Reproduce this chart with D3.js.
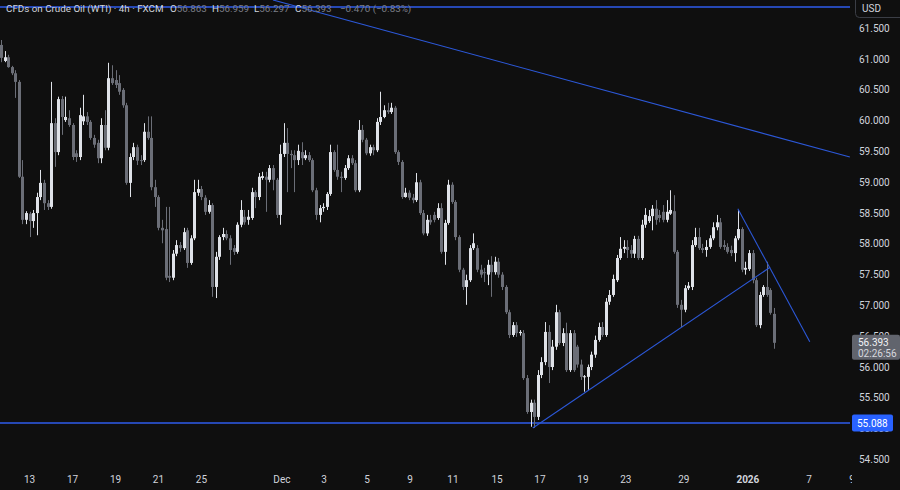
<!DOCTYPE html>
<html><head><meta charset="utf-8">
<script src="https://cdn.jsdelivr.net/npm/d3@7/dist/d3.min.js"></script>
<style>html,body{margin:0;padding:0;background:#0f0f0f;overflow:hidden}</style>
</head><body>
<svg id="chart" width="900" height="490"></svg>
<script>
// ---- data (4h candles, CFDs on Crude Oil WTI, FXCM) ----
const opens=[61.23,60.97,61.03,60.87,60.77,60.63,59.09,58.39,58.49,58.37,
58.50,58.76,58.99,58.66,58.60,59.96,59.49,60.35,60.01,60.04,
59.93,59.47,59.41,59.99,60.07,59.98,59.72,59.64,59.39,59.93,
59.56,60.69,60.66,60.61,60.50,60.25,58.99,59.41,59.57,59.36,
59.36,59.82,59.72,58.92,58.76,58.26,58.24,57.48,57.45,57.84,
57.98,57.93,58.22,57.69,58.09,58.83,58.89,58.75,58.52,58.63,
57.30,57.79,58.11,58.16,58.09,57.93,57.87,58.31,58.44,58.39,
58.42,58.84,58.76,59.07,59.09,59.04,59.23,59.04,58.47,59.46,
59.64,59.46,59.44,59.36,59.49,59.39,59.44,59.36,58.87,58.47,
58.58,58.60,58.81,59.49,59.20,59.09,59.07,59.23,59.39,59.31,
58.87,59.85,59.69,59.47,59.57,59.52,59.98,60.06,60.17,60.14,
60.21,59.49,59.33,58.76,58.83,58.75,58.71,59.00,58.50,58.17,
58.39,58.47,58.42,58.58,57.87,58.34,58.96,58.68,58.11,57.58,
57.30,57.41,57.93,57.93,57.58,57.54,57.50,57.66,57.54,57.71,
57.50,57.30,56.89,56.52,56.68,56.55,56.55,55.82,55.27,55.42,
55.19,55.87,56.08,56.57,56.00,56.33,56.89,56.39,56.55,55.95,
56.55,56.33,56.04,55.84,55.84,56.00,56.20,56.44,56.65,56.52,
57.06,57.17,57.41,57.77,57.92,57.95,57.90,57.84,58.08,57.77,
58.31,58.37,58.45,58.57,58.47,58.52,58.39,58.49,58.53,57.87,
57.01,56.93,57.28,57.30,57.98,58.11,57.93,57.90,57.95,58.09,
58.27,58.35,57.98,57.95,57.90,57.85,58.09,58.24,57.58,57.59,
57.85,57.41,56.68,57.17,57.30,57.25,56.863];
const highs=[61.31,61.13,61.07,60.89,60.82,60.66,59.36,58.53,58.52,58.55,
58.83,59.20,59.04,58.71,60.63,60.04,60.39,60.40,60.39,60.17,
59.96,59.52,60.21,60.42,60.14,60.01,59.77,59.69,60.04,60.17,
60.94,60.90,60.82,60.74,60.53,60.29,59.47,59.64,59.61,59.44,
59.96,60.07,60.07,59.04,58.79,58.39,58.60,58.60,57.90,58.06,
58.03,58.26,58.26,58.14,59.04,59.04,58.94,58.79,58.71,58.66,
57.87,58.14,58.26,58.22,58.14,57.98,58.35,58.71,58.55,58.55,
58.91,58.87,59.15,59.17,59.17,59.28,59.28,59.07,59.61,59.96,
59.88,59.52,59.52,59.61,59.65,59.52,59.49,59.39,58.91,58.63,
58.66,58.84,59.61,59.52,59.61,59.17,59.28,59.44,59.44,59.36,
60.01,59.93,59.72,59.61,59.61,60.04,60.47,60.25,60.29,60.29,
60.24,59.52,59.36,58.91,58.87,58.81,59.15,59.04,58.55,58.47,
58.47,58.52,58.66,58.66,58.39,59.04,59.00,58.71,58.14,57.61,
57.50,57.98,58.17,57.98,57.66,57.61,57.74,57.80,57.79,57.77,
57.54,57.33,56.93,56.73,56.73,56.60,56.60,55.87,55.47,55.47,
55.95,56.16,56.73,56.68,56.44,57.01,56.93,56.63,56.72,56.60,
56.60,56.36,56.12,55.87,56.04,56.25,56.51,56.72,56.73,57.12,
57.25,57.50,57.82,58.11,58.06,58.06,57.98,58.13,58.13,58.39,
58.58,58.55,58.63,58.71,58.55,58.63,58.71,58.87,58.79,57.90,
57.09,57.33,57.38,58.06,58.26,58.26,58.00,58.06,58.14,58.35,
58.47,58.42,58.06,58.01,57.97,58.13,58.55,58.27,57.71,57.90,
57.90,57.45,57.22,57.33,57.71,57.28,56.959];
const lows=[60.95,60.95,60.86,60.74,60.37,59.07,58.32,58.32,58.11,58.26,
58.14,58.71,58.55,58.55,58.57,59.25,59.44,59.77,59.98,59.90,
59.36,59.33,59.36,59.93,59.93,59.69,59.56,59.31,59.31,59.52,
59.52,60.58,60.53,60.42,60.21,58.96,58.76,59.36,59.28,59.28,
59.33,59.69,58.87,58.60,58.22,58.01,57.41,57.38,57.41,57.80,
57.87,57.90,57.61,57.66,58.06,58.78,58.71,58.47,58.49,57.14,
57.12,57.74,58.06,58.06,57.66,57.82,57.84,58.27,58.31,58.31,
58.39,58.58,58.71,59.04,58.52,59.00,58.87,58.42,58.31,59.41,
58.84,59.23,58.84,59.28,59.28,59.36,59.33,58.84,58.39,58.35,
58.52,58.55,58.78,59.17,59.04,58.84,59.04,59.20,59.28,58.84,
58.84,59.65,59.44,59.43,59.44,59.49,59.93,60.04,60.11,60.11,
59.46,59.28,58.73,58.75,58.71,58.66,58.68,58.47,58.14,58.13,
58.31,58.35,58.39,57.84,57.66,58.31,58.65,58.06,57.54,57.25,
57.01,57.38,57.90,57.54,57.45,57.38,57.33,57.14,57.50,57.45,
57.25,56.86,56.47,56.49,56.49,56.51,55.79,55.24,55.03,55.01,
55.14,55.82,56.03,55.74,55.95,56.28,56.36,56.34,55.92,55.92,
55.92,55.99,55.79,55.60,55.63,55.95,56.15,56.41,56.49,56.49,
57.01,57.14,57.38,57.74,57.85,57.77,57.77,57.77,57.74,57.74,
58.26,58.34,58.22,58.31,58.35,58.35,58.35,58.47,57.84,56.96,
56.65,56.89,57.25,57.25,57.95,57.90,57.85,57.79,57.92,58.06,
58.22,57.92,57.90,57.84,57.80,57.71,58.06,57.54,57.50,57.56,
57.36,56.65,56.63,57.14,57.14,56.85,56.297];
const closes=[61.02,61.03,60.87,60.77,60.63,59.09,58.39,58.50,58.37,58.50,
58.76,58.99,58.66,58.60,59.96,59.49,60.35,60.06,60.06,59.93,
59.41,59.41,60.09,60.07,59.98,59.72,59.61,59.39,59.93,59.56,
60.69,60.61,60.58,60.47,60.25,58.99,59.41,59.57,59.35,59.35,
59.82,59.72,58.92,58.76,58.26,58.22,57.45,57.45,57.84,57.98,
57.93,58.19,57.69,58.09,58.84,58.89,58.76,58.52,58.63,57.30,
57.79,58.11,58.16,58.09,57.90,57.87,58.31,58.55,58.35,58.44,
58.84,58.76,59.09,59.10,59.04,59.23,59.04,58.47,59.46,59.64,
59.46,59.44,59.36,59.51,59.39,59.44,59.36,58.87,58.47,58.58,
58.60,58.81,59.49,59.20,59.09,59.07,59.23,59.39,59.31,58.87,
59.85,59.69,59.47,59.57,59.52,59.98,60.06,60.17,60.14,60.21,
59.49,59.33,58.76,58.83,58.75,58.71,59.00,58.50,58.17,58.39,
58.35,58.39,58.58,57.87,58.34,58.96,58.68,58.11,57.58,57.30,
57.41,57.93,58.01,57.58,57.50,57.53,57.66,57.54,57.71,57.50,
57.30,56.89,56.52,56.68,56.55,56.57,55.82,55.27,55.42,55.19,
55.87,56.08,56.57,56.00,56.33,56.89,56.39,56.55,55.95,56.55,
55.95,56.04,55.84,55.85,56.00,56.20,56.44,56.65,56.52,57.06,
57.17,57.43,57.77,57.92,57.95,57.90,57.84,58.08,57.77,58.31,
58.47,58.45,58.57,58.39,58.42,58.39,58.52,58.55,57.87,57.01,
56.93,57.28,57.32,57.98,58.11,57.93,57.90,57.95,58.09,58.27,
58.35,57.95,57.95,57.87,57.85,58.09,58.24,57.58,57.61,57.85,
57.41,56.68,57.17,57.30,57.17,56.88,56.393];

const xTickIndex=[8,20,32,44,56,78.5,90.3,102.3,114.3,126.3,138.6,150.6,162.6,174.6,190.8,208.7,225.8,237.8];
const xTickLabels=["13","17","19","21","25","Dec","3","5","9","11","15","17","19","23","29","2026","7","9"];
const yTickValues=[54.5,55,55.5,56,56.5,57,57.5,58,58.5,59,59.5,60,60.5,61,61.5];
const horizontalLevels=[61.83,55.088];
const trendStarts=[[76,61.96],[148.6,55.01],[205.9,58.57]];
const trendEnds=[[237.2,59.41],[214.9,57.62],[226.0,56.41]];
const symbolTitle="CFDs on Crude Oil (WTI) · 4h · FXCM";
const ohlcLetters=["O","H","L","C"];
const changeText="−0.470 (−0.83%)";
const countdown="02:26:56";

// ---- drawing ----
const W=900,H=490,plotR=850;
const svg=d3.select("#chart");
const bg="#0f0f0f", upC="#dfe2e8", dnC="#6b6e77", lineC="#2c58d8", txt="#d1d4dc";
svg.append("rect").attr("width",W).attr("height",H).attr("fill",bg);

const n=closes.length;
const x=d3.scaleLinear().domain([0,n-1]).range([1,774]);
const y=d3.scaleLinear().domain([54.5,61.5]).range([459.4,28.3]);

const defs=svg.append("defs");
defs.append("clipPath").attr("id","plotclip").append("rect").attr("x",0).attr("y",0).attr("width",plotR).attr("height",466);
defs.append("clipPath").attr("id","botclip").append("rect").attr("x",0).attr("y",466).attr("width",plotR+2).attr("height",30);

const plot=svg.append("g").attr("clip-path","url(#plotclip)");

// horizontal levels (2px rules aligned to even rows so the blue survives compression)
plot.selectAll("rect.h").data(horizontalLevels).join("rect").attr("class","h")
  .attr("x",0).attr("width",plotR)
  .attr("y",d=>2*Math.floor(y(d)/2)).attr("height",2)
  .attr("shape-rendering","crispEdges")
  .attr("fill","#2648b4");

// candles
const idx=d3.range(n);
const g=plot.append("g");
g.selectAll("rect.w").data(idx).join("rect").attr("class","w")
  .attr("x",i=>Math.round(x(i)))
  .attr("width",1)
  .attr("y",i=>y(highs[i]))
  .attr("height",i=>Math.max(1,y(lows[i])-y(highs[i])))
  .attr("fill",i=>closes[i]>=opens[i]?upC:dnC);
g.selectAll("rect.b").data(idx).join("rect").attr("class","b")
  .attr("x",i=>Math.round(x(i))-1)
  .attr("width",3)
  .attr("y",i=>y(Math.max(opens[i],closes[i])))
  .attr("height",i=>Math.max(1,Math.abs(y(opens[i])-y(closes[i]))))
  .attr("fill",i=>closes[i]>=opens[i]?upC:dnC);

// trend lines
plot.selectAll("line.t").data(d3.range(trendStarts.length)).join("line").attr("class","t")
  .attr("x1",k=>x(trendStarts[k][0])).attr("y1",k=>y(trendStarts[k][1]))
  .attr("x2",k=>x(trendEnds[k][0])).attr("y2",k=>y(trendEnds[k][1]))
  .attr("stroke",lineC).attr("stroke-width",1.1);

// header
const font="Roboto, 'Liberation Sans', Arial, sans-serif";
const last=n-1;
const valC="#7b7e87";
const hdr=svg.append("g").attr("font-family",font).attr("font-size",9.8);
hdr.append("text").attr("x",6).attr("y",12).attr("fill",txt).text(symbolTitle);
const ohlcVals=[opens[last],highs[last],lows[last],closes[last]];
const ohlcX=[170,212,254,295];
ohlcLetters.forEach((l,k)=>{
  const t=hdr.append("text").attr("x",ohlcX[k]).attr("y",12);
  t.append("tspan").attr("fill",txt).text(l);
  t.append("tspan").attr("fill",valC).text(d3.format(".3f")(ohlcVals[k]));
});
hdr.append("text").attr("x",340).attr("y",12).attr("fill",valC).text(changeText);

// right axis
const lastClose=closes[last], level=horizontalLevels[1];
const axis=svg.append("g").attr("font-family",font).attr("font-size",10).attr("fill",txt);
axis.selectAll("text.y").data(yTickValues).join("text").attr("class","y")
  .attr("x",859).attr("y",d=>y(d)).attr("dy","0.35em").text(d=>d3.format(".3f")(d));

// USD box
svg.append("rect").attr("x",855.5).attr("y",-4.5).attr("width",50).attr("height",22).attr("rx",4)
  .attr("fill",bg).attr("stroke","#3b3e46");
svg.append("text").attr("x",862).attr("y",8).attr("dy","0.35em").attr("font-family",font).attr("font-size",10).attr("fill",txt).text("USD");

// last price box
const yc=y(lastClose);
svg.append("rect").attr("x",852).attr("y",yc-8).attr("width",48).attr("height",25).attr("rx",2).attr("fill","#61646d");
svg.append("text").attr("x",858).attr("y",yc).attr("dy","0.35em").attr("font-family",font).attr("font-size",10).attr("fill","#f0f1f4").text(d3.format(".3f")(lastClose));
svg.append("text").attr("x",858).attr("y",yc+11).attr("dy","0.35em").attr("font-family",font).attr("font-size",10).attr("fill","#d6d8de").text(countdown);

// level box
const yl=2*Math.floor(y(level)/2)+1;
svg.append("rect").attr("x",852).attr("y",yl-8.5).attr("width",41).attr("height",17).attr("rx",2).attr("fill","#2962ff");
svg.append("text").attr("x",857).attr("y",yl).attr("dy","0.35em").attr("font-family",font).attr("font-size",10).attr("fill","#ffffff").text(d3.format(".3f")(level));

// bottom axis
const bx=svg.append("g").attr("clip-path","url(#botclip)");
bx.selectAll("text").data(d3.range(xTickIndex.length)).join("text")
  .attr("x",k=>x(xTickIndex[k])).attr("y",479).attr("dy","0.35em").attr("text-anchor","middle")
  .attr("font-family",font).attr("font-size",10)
  .attr("font-weight",k=>xTickLabels[k]==="2026"?"bold":"normal")
  .attr("fill",txt).text(k=>xTickLabels[k]);
</script>
</body></html>
